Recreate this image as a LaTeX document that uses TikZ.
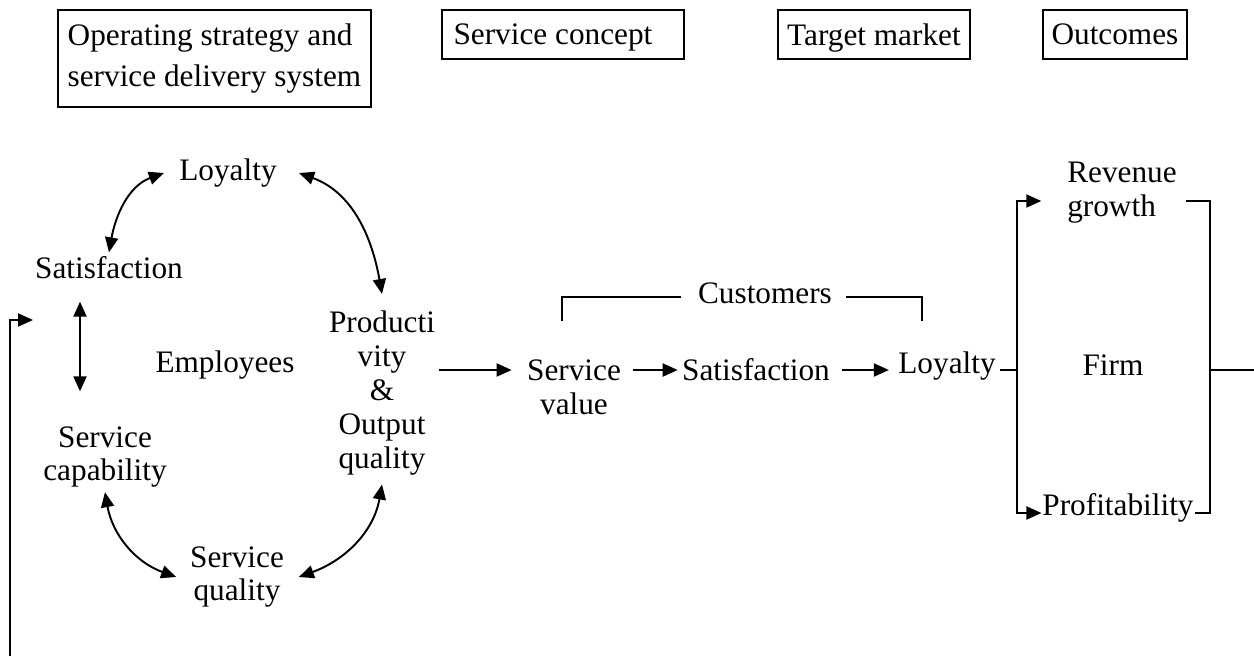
\documentclass[tikz,border=0pt]{standalone}
\usepackage{fontspec}
\setmainfont{Liberation Serif}
\usetikzlibrary{arrows.meta}
\tikzset{
  lbl/.style={inner sep=2pt, align=center},
  topbox/.style={draw, inner sep=0pt, anchor=north west, align=left, minimum height=0.98cm},
  arr/.style={-{Triangle[length=0.3cm,width=0.26cm]}},
  dbl/.style={{Triangle[length=0.3cm,width=0.26cm]}-{Triangle[length=0.3cm,width=0.26cm]}}
}
\begin{document}
\begin{tikzpicture}[x=0.02cm,y=-0.02cm,line width=1.1pt,font=\fontsize{17.8}{19.3}\selectfont]
\useasboundingbox (0,0) rectangle (1254,656);
\node[topbox,minimum width=6.26cm,minimum height=1.94cm,font=\fontsize{17.8}{23.3}\selectfont] (opsys) at (57,9) {Operating strategy and\\service delivery system};
\foreach \n/\x/\w/\t in {concept/441/4.84/Service concept\hspace{0.4cm},market/777/3.84/Target market,outcome/1042/2.88/Outcomes}
  \node[topbox,minimum width=\w cm,text depth=0pt] (\n) at (\x,9) {\t};

\node[lbl] (loy1) at (228,173) {Loyalty};
\node[lbl] (sat1) at (109,268) {Satisfaction};
\node[lbl] (emp) at (225,365) {Employees};
\node[lbl] (cap) at (105,457) {Service\\capability};
\node[lbl] (squal) at (237,577) {Service\\quality};
\node[lbl] (prod) at (382,393) {Producti\\vity\\\&\\Output\\quality};

\node[lbl] (sv) at (574,387) {Service\\value};
\node[lbl] (sat2) at (756,370) {Satisfaction};
\node[lbl] (loy2) at (947,366) {Loyalty};
\node[lbl] (cust) at (765,293) {Customers};
\node[lbl] (firm) at (1113,365) {Firm};
\node[lbl,align=left] (rev) at (1122,193) {Revenue\\growth};
\node[inner sep=0pt] (prof) at (1118,508) {Profitability};

\draw[dbl] (sat1.north) to[out=80,in=200] ([xshift=-0.22cm]loy1.west);
\draw[dbl] ([xshift=0.36cm]loy1.east) to[out=-20,in=100] ([yshift=0.25cm]prod.north);
\draw[dbl] ([xshift=-0.58cm,yshift=-0.36cm]sat1.south) -- ([xshift=-0.5cm,yshift=0.61cm]cap.north);
\draw[dbl] (cap.south) to[out=-80,in=160] ([xshift=-0.19cm]squal.west);
\draw[dbl] ([xshift=0.21cm]squal.east) to[out=20,in=-100] ([yshift=-0.1cm]prod.south);

\draw[arr,shorten >=0.22cm] (prod.east |- sat2) -- (sv.west |- sat2);
\draw[arr,shorten <=0.16cm] (sv.east |- sat2) -- (sat2.west);
\draw[arr,shorten <=0.16cm,shorten >=0.1cm] (sat2.east) -- (loy2.west |- sat2);

\draw ([xshift=-0.25cm,yshift=-0.08cm]cust.west) -| ([xshift=-0.24cm,yshift=0.68cm]sv.north);
\draw ([xshift=0.19cm,yshift=-0.08cm]cust.east) -| ([xshift=-0.5cm,yshift=0.53cm]loy2.north);

\coordinate (split) at (1017,370);
\coordinate (join) at (1210,370);
\coordinate (exit) at (1254,370);
\draw (loy2.east |- split) -- (split);
\draw[arr] (split) |- ([xshift=-0.43cm,yshift=-0.16cm]rev.west);
\draw[arr] (split) |- ([yshift=-0.1cm]prof.west);
\draw ([xshift=0.1cm,yshift=-0.16cm]rev.east) -| (join) |- ([yshift=-0.1cm]prof.east);
\draw (join) -- (exit);

\coordinate (fbin) at (10,656);
\coordinate (fbtip) at (33,320);
\draw[arr] (fbin) |- (fbtip);
\end{tikzpicture}
\end{document}
